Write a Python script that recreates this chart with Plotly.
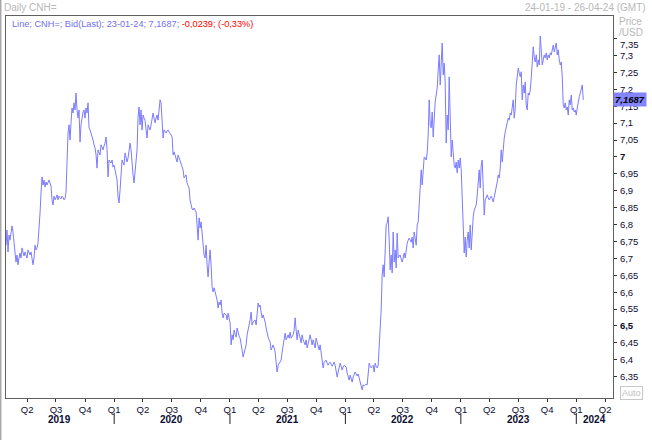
import plotly.graph_objects as go
import pandas as pd

# Daily CNH= closing values (one reading per pixel column, Jan-2019 .. 23-Jan-2024)
prices = [
 6.739, 6.784, 6.719, 6.769, 6.754, 6.775, 6.796, 6.778, 6.739, 6.725,
 6.689, 6.710, 6.681, 6.701, 6.716, 6.701, 6.731, 6.719, 6.707, 6.719,
 6.710, 6.701, 6.725, 6.716, 6.710, 6.719, 6.701, 6.681, 6.701, 6.739,
 6.725, 6.731, 6.745, 6.784, 6.834, 6.893, 6.941, 6.917, 6.932, 6.911,
 6.926, 6.917, 6.923, 6.932, 6.923, 6.914, 6.873, 6.858, 6.884, 6.873,
 6.879, 6.888, 6.873, 6.884, 6.879, 6.876, 6.884, 6.881, 6.873, 6.876,
 6.896, 6.991, 7.071, 7.095, 7.050, 7.101, 7.145, 7.130, 7.160, 7.139,
 7.189, 7.139, 7.115, 7.139, 7.044, 7.095, 7.124, 7.133, 7.139, 7.115,
 7.145, 7.130, 7.160, 7.086, 7.080, 7.071, 7.059, 7.050, 7.036, 7.027,
 7.006, 6.967, 7.021, 7.012, 7.006, 7.036, 7.027, 7.021, 7.033, 7.041,
 7.059, 7.021, 6.941, 6.991, 6.985, 6.982, 6.991, 6.970, 6.976, 6.962,
 6.947, 6.932, 6.881, 6.864, 6.902, 6.962, 6.991, 6.982, 6.976, 7.012,
 6.997, 6.985, 6.997, 7.021, 7.041, 7.021, 6.976, 6.947, 6.923, 6.962,
 6.991, 7.021, 7.118, 7.148, 7.095, 7.139, 7.080, 7.124, 7.115, 7.109,
 7.080, 7.056, 7.095, 7.086, 7.080, 7.095, 7.109, 7.130, 7.115, 7.101,
 7.115, 7.124, 7.109, 7.148, 7.169, 7.160, 7.115, 7.056, 7.080, 7.074,
 7.071, 7.077, 7.080, 7.074, 7.071, 7.065, 7.059, 7.006, 7.015, 7.006,
 7.000, 6.985, 7.006, 6.997, 6.991, 6.976, 6.970, 6.962, 6.938, 6.944,
 6.947, 6.923, 6.914, 6.908, 6.873, 6.852, 6.846, 6.843, 6.849, 6.843,
 6.837, 6.799, 6.754, 6.820, 6.790, 6.808, 6.769, 6.739, 6.710, 6.701,
 6.739, 6.681, 6.645, 6.689, 6.725, 6.681, 6.616, 6.601, 6.613, 6.601,
 6.592, 6.577, 6.553, 6.571, 6.562, 6.577, 6.538, 6.524, 6.538, 6.535,
 6.533, 6.518, 6.538, 6.524, 6.509, 6.444, 6.474, 6.459, 6.488, 6.476,
 6.467, 6.494, 6.479, 6.470, 6.464, 6.450, 6.429, 6.408, 6.423, 6.435,
 6.444, 6.474, 6.488, 6.500, 6.518, 6.541, 6.503, 6.512, 6.515, 6.518,
 6.503, 6.547, 6.568, 6.556, 6.562, 6.541, 6.524, 6.533, 6.524, 6.512,
 6.494, 6.474, 6.467, 6.459, 6.453, 6.429, 6.438, 6.444, 6.435, 6.423,
 6.393, 6.364, 6.384, 6.390, 6.393, 6.399, 6.423, 6.444, 6.464, 6.479,
 6.459, 6.467, 6.474, 6.464, 6.482, 6.464, 6.470, 6.474, 6.488, 6.524,
 6.488, 6.459, 6.488, 6.479, 6.464, 6.450, 6.474, 6.459, 6.450, 6.444,
 6.459, 6.435, 6.447, 6.459, 6.474, 6.459, 6.444, 6.459, 6.447, 6.435,
 6.464, 6.453, 6.444, 6.429, 6.444, 6.423, 6.399, 6.376, 6.393, 6.396,
 6.399, 6.390, 6.384, 6.390, 6.393, 6.387, 6.381, 6.387, 6.393, 6.384,
 6.361, 6.349, 6.364, 6.376, 6.390, 6.381, 6.370, 6.379, 6.384, 6.381,
 6.379, 6.361, 6.349, 6.340, 6.355, 6.346, 6.334, 6.349, 6.355, 6.364,
 6.358, 6.352, 6.358, 6.346, 6.331, 6.317, 6.311, 6.326, 6.323, 6.326,
 6.328, 6.326, 6.364, 6.390, 6.381, 6.376, 6.381, 6.384, 6.364, 6.390,
 6.381, 6.376, 6.384, 6.435, 6.488, 6.547, 6.651, 6.681, 6.645, 6.745,
 6.799, 6.805, 6.823, 6.754, 6.666, 6.710, 6.657, 6.778, 6.689, 6.725,
 6.672, 6.775, 6.701, 6.707, 6.710, 6.698, 6.689, 6.701, 6.716, 6.701,
 6.725, 6.745, 6.754, 6.760, 6.754, 6.748, 6.763, 6.731, 6.778, 6.760,
 6.739, 6.799, 6.808, 6.858, 6.902, 6.962, 6.917, 6.982, 7.000, 6.997,
 6.991, 7.012, 7.065, 7.169, 7.095, 7.086, 7.133, 7.059, 7.124, 7.163,
 7.183, 7.204, 7.257, 7.302, 7.213, 7.287, 7.337, 7.243, 7.278, 7.219,
 7.041, 7.124, 7.080, 7.237, 7.139, 7.000, 7.050, 6.991, 6.976, 6.967,
 6.985, 6.953, 6.991, 6.967, 6.997, 6.962, 6.873, 6.784, 6.716, 6.763,
 6.704, 6.754, 6.778, 6.731, 6.799, 6.725, 6.784, 6.823, 6.843, 6.849,
 6.858, 6.888, 6.917, 6.962, 6.908, 6.976, 6.991, 6.881, 6.828, 6.873,
 6.881, 6.888, 6.879, 6.873, 6.879, 6.884, 6.876, 6.867, 6.881, 6.893,
 6.908, 6.926, 6.947, 6.938, 6.967, 7.021, 6.985, 7.041, 7.056, 7.074,
 7.086, 7.095, 7.115, 7.109, 7.130, 7.124, 7.154, 7.169, 7.115, 7.145,
 7.213, 7.243, 7.263, 7.249, 7.237, 7.252, 7.169, 7.213, 7.189, 7.222,
 7.154, 7.139, 7.189, 7.183, 7.198, 7.234, 7.302, 7.326, 7.296, 7.281,
 7.302, 7.266, 7.287, 7.272, 7.358, 7.317, 7.272, 7.287, 7.302, 7.293,
 7.308, 7.287, 7.302, 7.293, 7.308, 7.302, 7.317, 7.331, 7.311, 7.323,
 7.337, 7.302, 7.317, 7.287, 7.272, 7.281, 7.237, 7.154, 7.145, 7.160,
 7.139, 7.148, 7.124, 7.169, 7.154, 7.183, 7.139, 7.145, 7.133, 7.139,
 7.124, 7.145, 7.169, 7.178, 7.189, 7.204, 7.213, 7.1687,
]
first_date = "2019-01-24"
last_date = "2024-01-23"
dates = pd.date_range(first_date, last_date, periods=len(prices))

view_start = "2019-01-24"
view_end = "2024-04-26"

quarter_ticks = ["2019-04-01", "2019-07-01", "2019-10-01",
                 "2020-01-01", "2020-04-01", "2020-07-01", "2020-10-01",
                 "2021-01-01", "2021-04-01", "2021-07-01", "2021-10-01",
                 "2022-01-01", "2022-04-01", "2022-07-01", "2022-10-01",
                 "2023-01-01", "2023-04-01", "2023-07-01", "2023-10-01",
                 "2024-01-01", "2024-04-01"]
quarter_labels = ["Q2", "Q3", "Q4",
                  "Q1", "Q2", "Q3", "Q4",
                  "Q1", "Q2", "Q3", "Q4",
                  "Q1", "Q2", "Q3", "Q4",
                  "Q1", "Q2", "Q3", "Q4",
                  "Q1", "Q2"]
year_labels = ["2019", "2020", "2021", "2022", "2023", "2024"]
year_label_dates = ["2019-07-13", "2020-07-01", "2021-07-02", "2022-07-02", "2023-07-02", "2024-02-28"]
year_starts = ["2020-01-01", "2021-01-01", "2022-01-01", "2023-01-01", "2024-01-01"]

y_ticks = [6.35, 6.4, 6.45, 6.5, 6.55, 6.6, 6.65, 6.7, 6.75, 6.8, 6.85, 6.9, 6.95,
           7.0, 7.05, 7.1, 7.15, 7.2, 7.25, 7.3, 7.35]
y_tick_labels = ["6,35", "6,4", "6,45", "<b>6,5</b>", "6,55", "6,6", "6,65", "6,7", "6,75",
                 "6,8", "6,85", "6,9", "6,95", "<b>7</b>", "7,05", "7,1", "7,15", "7,2",
                 "7,25", "7,3", ""]
top_tick_label = "7,35"          # drawn nudged below its tick, as in the reference
top_tick_label_y = 7.333
y_range = [6.287, 7.417]

last_value = 7.1687
last_value_text = "7,1687"
header_main = "Line; CNH=; Bid(Last); 23-01-24; 7,1687; "
header_change = "-0,0239; (-0,33%)"

FONT = "Liberation Sans, Arial, sans-serif"
LINE_COLOR = "#7b7bff"
TEXT_DARK = "#0c0c30"
FRAME = "#606060"

fig = go.Figure()
fig.add_trace(go.Scatter(x=dates, y=prices, mode="lines",
                         line=dict(color=LINE_COLOR, width=1), hoverinfo="skip",
                         showlegend=False))

fig.update_layout(
    width=652, height=440, autosize=False,
    margin=dict(l=6, r=39, t=16, b=42, pad=0),
    paper_bgcolor="white", plot_bgcolor="white",
    font=dict(family=FONT, size=10, color=TEXT_DARK),
    showlegend=False,
)
fig.update_xaxes(
    type="date", range=[view_start, view_end],
    tickmode="array", tickvals=quarter_ticks, ticktext=quarter_labels,
    ticks="outside", ticklen=3, tickcolor="#303030", tickwidth=1,
    tickfont=dict(family=FONT, size=9.5, color=TEXT_DARK),
    showline=True, linecolor=FRAME, linewidth=1, mirror=True,
    showgrid=False, zeroline=False, tickangle=0, automargin=False,
)
fig.update_yaxes(
    side="right", range=y_range,
    tickmode="array", tickvals=y_ticks, ticktext=y_tick_labels,
    ticks="outside", ticklen=3, tickcolor="#303030", tickwidth=1,
    tickfont=dict(family=FONT, size=9.5, color=TEXT_DARK),
    showline=True, linecolor=FRAME, linewidth=1, mirror=True,
    showgrid=False, zeroline=False, ticklabelstandoff=1, automargin=False,
)

ann = []
ann.append(dict(text="Daily CNH=", xref="paper", yref="paper", x=-0.006, y=1.021,
                xanchor="left", yanchor="middle", showarrow=False,
                font=dict(family=FONT, size=10, color="#b8b8b8")))
ann.append(dict(text="24-01-19 - 26-04-24 (GMT)", xref="paper", yref="paper", x=1.0577, y=1.021,
                xanchor="right", yanchor="middle", showarrow=False,
                font=dict(family=FONT, size=10, color="#b8b8b8")))
ann.append(dict(text=header_main + '<span style="color:#ff0000">' + header_change + "</span>",
                xref="paper", yref="paper", x=0.006, y=0.979,
                xanchor="left", yanchor="middle", showarrow=False,
                font=dict(family=FONT, size=9.2, color="#7070f0")))
ann.append(dict(text="Price", xref="paper", yref="paper", x=1.006, y=0.986,
                xanchor="left", yanchor="middle", showarrow=False,
                font=dict(family=FONT, size=10, color="#b8b8b8")))
ann.append(dict(text="/USD", xref="paper", yref="paper", x=1.006, y=0.957,
                xanchor="left", yanchor="middle", showarrow=False,
                font=dict(family=FONT, size=10, color="#b8b8b8")))
ann.append(dict(text=top_tick_label, xref="paper", yref="y", x=1.0085, y=top_tick_label_y,
                xanchor="left", yanchor="middle", showarrow=False,
                font=dict(family=FONT, size=9.5, color=TEXT_DARK)))
ann.append(dict(text="<i><b>" + last_value_text + "</b></i>", xref="paper", yref="y", x=1.0, y=last_value,
                xanchor="left", yanchor="middle", showarrow=False,
                bgcolor="#8484ff", borderpad=1,
                font=dict(family=FONT, size=9.5, color="#000000")))
ann.append(dict(text="Auto", xref="paper", yref="paper", x=1.031, y=0.013,
                xanchor="center", yanchor="middle", showarrow=False,
                bordercolor="#c8c8c8", borderwidth=1, borderpad=1,
                font=dict(family=FONT, size=9, color="#c0c0c0")))
for lbl, d in zip(year_labels, year_label_dates):
    ann.append(dict(text="<b>" + lbl + "</b>", xref="x", yref="paper", x=d, y=-0.055,
                    xanchor="center", yanchor="middle", showarrow=False,
                    font=dict(family=FONT, size=10, color=TEXT_DARK)))
fig.update_layout(annotations=ann)

shapes = []
for d in year_starts:
    shapes.append(dict(type="line", xref="x", yref="paper", x0=d, x1=d, y0=-0.039, y1=-0.068,
                       line=dict(color="#202020", width=1)))
shapes.append(dict(type="line", xref="paper", yref="paper", x0=-0.0091, x1=-0.0091, y0=-0.11, y1=1.042,
                   line=dict(color="#a8a8a8", width=2)))
fig.update_layout(shapes=shapes)

fig.write_html("out.html",
               config={"displayModeBar": False, "staticPlot": True},
               post_script="document.body.style.margin='0px';document.body.style.overflow='hidden';")
